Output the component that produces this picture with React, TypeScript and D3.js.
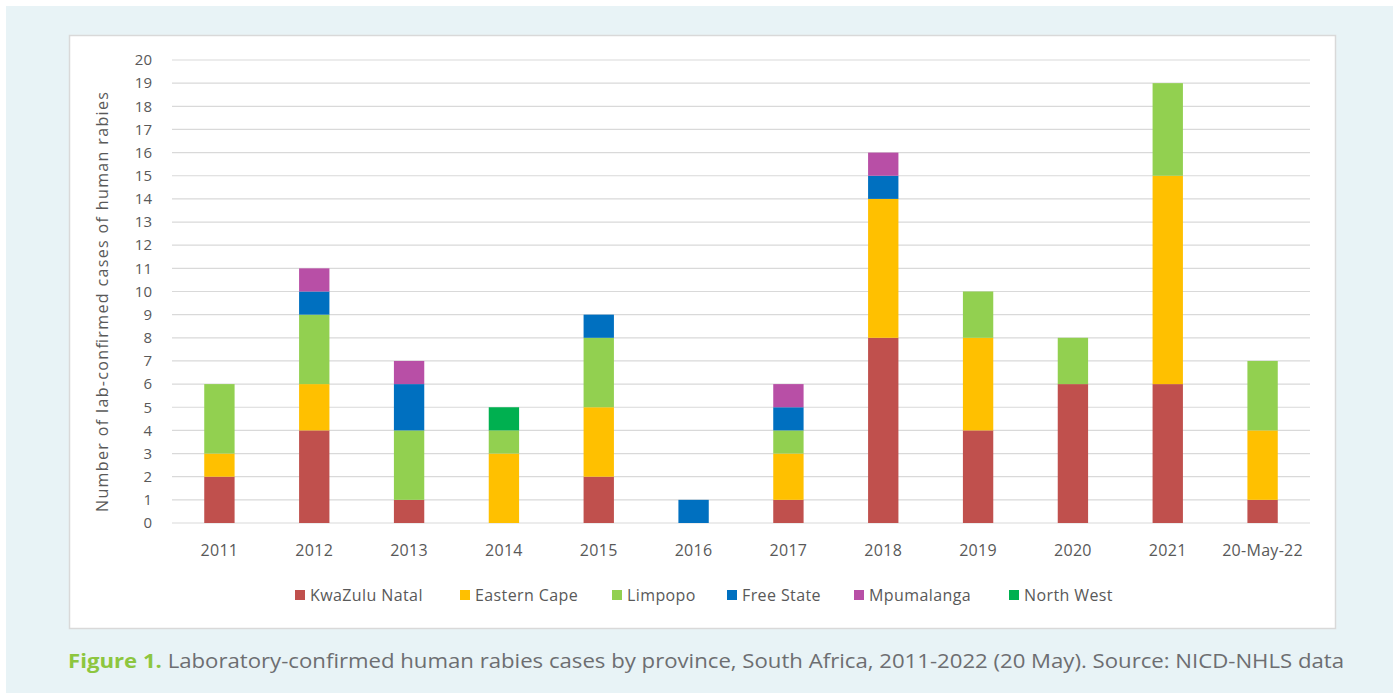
import React from "react";
import * as d3 from "d3";

const categories = ["2011","2012","2013","2014","2015","2016","2017","2018","2019","2020","2021","20-May-22"];
const provinces = ["KwaZulu Natal","Eastern Cape","Limpopo","Free State","Mpumalanga","North West"];
const kwaZuluNatal = [2,4,1,0,2,0,1,8,4,6,6,1];
const easternCape = [1,2,0,3,3,0,2,6,4,0,9,3];
const limpopo = [3,3,3,1,3,0,1,0,2,2,4,3];
const freeState = [0,1,2,0,1,1,1,1,0,0,0,0];
const mpumalanga = [0,1,1,0,0,0,1,1,0,0,0,0];
const northWest = [0,0,0,1,0,0,0,0,0,0,0,0];
const yTicks = d3.range(0, 21);
const colors = ["#c0504d","#ffc000","#92d050","#0070c0","#b84fa6","#00b050"];

export default function App() {
  const W = 1399, H = 693;
  const series = [kwaZuluNatal, easternCape, limpopo, freeState, mpumalanga, northWest];
  const rows = categories.map((c, i) => {
    const r: any = { cat: c };
    provinces.forEach((p, k) => (r[p] = series[k][i]));
    return r;
  });
  const stacked = d3.stack().keys(provinces)(rows);
  const x = d3.scaleBand().domain(categories).range([172, 1310]).paddingInner(0.68).paddingOuter(0.34);
  const y = d3.scaleLinear().domain([0, 20]).range([523, 60]);
  const font = "'Open Sans', sans-serif";
  const legendX = [300, 465, 617, 732, 859, 1014];
  return (
    <svg width={W} height={H} style={{ display: "block", position: "absolute", left: 0, top: 0 }}>
      <rect x={0} y={0} width={W} height={H} fill="#ffffff" />
      <rect x={6} y={6} width={W - 12} height={H - 6} fill="#e8f3f6" />
      <rect x={69.5} y={35.5} width={1266} height={593} fill="#ffffff" stroke="#d9d9d9" strokeWidth={1.5} />
      {yTicks.map((t) => (
        <g key={t}>
          <line x1={172} x2={1310} y1={y(t)} y2={y(t)} stroke="#d9d9d9" strokeWidth={1.2} />
          <text x={152} y={y(t)} dy="0.35em" textAnchor="end" fontFamily={font} fontSize={15} fill="#595959">{t}</text>
        </g>
      ))}
      {stacked.map((s, k) => (
        <g key={s.key} fill={colors[k]}>
          {s.map((d, i) => (d[1] - d[0] > 0 ? (
            <rect key={i} x={x(categories[i])} y={y(d[1])} width={x.bandwidth()} height={y(d[0]) - y(d[1])} />
          ) : null))}
        </g>
      ))}
      {categories.map((c) => (
        <text key={c} x={(x(c) as number) + x.bandwidth() / 2} y={556} textAnchor="middle" fontFamily={font} fontSize={16} letterSpacing={0.3} fill="#595959">{c}</text>
      ))}
      <text transform={`translate(108,302) rotate(-90)`} textAnchor="middle" fontFamily={font} fontSize={16} textLength={420} lengthAdjust="spacing" fill="#595959">Number of lab-confirmed cases of human rabies</text>
      {provinces.map((p, k) => (
        <g key={p} transform={`translate(${legendX[k]},595)`}>
          <rect x={-5} y={-5} width={10} height={10} fill={colors[k]} />
          <text x={10} y={0} dy="0.35em" fontFamily={font} fontSize={16} letterSpacing={0.4} fill="#595959">{p}</text>
        </g>
      ))}
      <text x={68} y={668} fontFamily={font} fontSize={20} textLength={1276} lengthAdjust="spacingAndGlyphs" fill="#6d6e71">
        <tspan fill="#8dc63f" fontWeight="bold">Figure 1.</tspan>
        <tspan> Laboratory-confirmed human rabies cases by province, South Africa, 2011-2022 (20 May). Source: NICD-NHLS data</tspan>
      </text>
    </svg>
  );
}
